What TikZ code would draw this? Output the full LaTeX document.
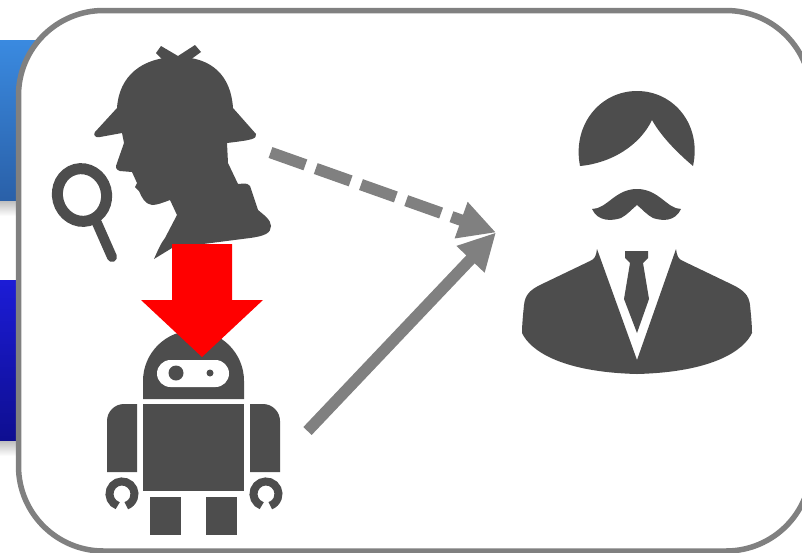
\documentclass[tikz,border=0pt]{standalone}
\usetikzlibrary{arrows.meta}
\definecolor{icongray}{HTML}{4D4D4D}
\definecolor{framegray}{HTML}{808080}
\definecolor{skytop}{HTML}{3A8AE0}
\definecolor{skybottom}{HTML}{2A60A8}
\definecolor{navytop}{HTML}{1C1CD6}
\definecolor{navybottom}{HTML}{0E0E90}
\begin{document}
\begin{tikzpicture}[x=1pt,y=-1pt,
  icon/.style={fill=icongray},
  blind/.style={fill=white},
  backing/.style={top color=gray!50,bottom color=white},
  flow/.style={draw=framegray,line width=11.5pt,-{Triangle[length=37pt,width=36pt]}}]
\useasboundingbox (0,0) rectangle (802,552);

\shade[top color=skytop,bottom color=skybottom] (0,40) rectangle (45,201);
\shade[backing] (0,201) rectangle (45,216);
\shade[top color=navytop,bottom color=navybottom] (0,280) rectangle (45,441);
\shade[backing] (0,441) rectangle (45,456);

\draw[framegray,line width=5.5pt,fill=white,rounded corners=85pt] (18.5,10.5) rectangle (811,551);

\fill[icon] (161,46) -- (178,56) -- (195,45) -- (201,52) -- (190,60) -- (163,60) -- (156,53) -- cycle;
\fill[icon] (117,108) .. controls (119,76) and (142,57) .. (178,57) .. controls (212,57) and (231,76) .. (233,108)
  -- (256,134) .. controls (257,139) and (252,140) .. (227,143)
  -- (228,163) -- (238,184) .. controls (242,184) and (247,182) .. (250,186) -- (258,210)
  .. controls (264,215) and (271,220) .. (271,226) .. controls (271,233) and (265,236) .. (250,238)
  -- (172,248) -- (154,259) .. controls (158,250) and (161,243) .. (165,238) -- (177,215) -- (170,200)
  .. controls (162,203) and (157,205) .. (152,205) .. controls (145,204) and (142,198) .. (139,191)
  -- (135,187) -- (137,183) -- (132,172) -- (120,171) .. controls (116,170) and (115,167) .. (117,163)
  -- (124,143) -- (122,133) -- (100,137) .. controls (95,138) and (93,135) .. (95,132) -- cycle;

\draw[icongray,line width=11pt,rotate around={15:(82,195)}] (82,195) circle[x radius=24.5,y radius=26.5];
\draw[icongray,line width=10pt,line cap=round] (97,223) -- (112,257);

\fill[icon] (143,399) -- (143,381) arc[start angle=180,end angle=360,radius=50.5] -- (244,399) -- cycle;
\fill[blind,rounded corners=13.5pt] (157,360) rectangle (229,387);
\fill[icon] (176,373) circle[radius=7.5];
\fill[icon] (210,373) circle[radius=3.5];
\fill[icon] (143,404) rectangle (244,491);
\fill[icon] (107,472) -- (107,421) arc[start angle=180,end angle=270,radius=17] -- (137,404) -- (137,472) -- cycle;
\fill[icon] (280,472) -- (280,421) arc[start angle=0,end angle=-90,radius=17] -- (250,404) -- (250,472) -- cycle;
\draw[icongray,line width=8pt] (117.7,505.7) arc[start angle=110,end angle=430,radius=12.5];
\draw[icongray,line width=8pt] (261.7,505.7) arc[start angle=110,end angle=430,radius=12.5];
\fill[icon] (150,497) rectangle (181,535);
\fill[icon] (206,497) rectangle (237,535);

\fill[icon] (580,166) .. controls (572,125) and (600,91) .. (637,91) .. controls (674,91) and (702,125) .. (693,166)
  .. controls (680,155) and (662,138) .. (652,120) .. controls (640,145) and (612,163) .. cycle;
\fill[icon] (592,209) .. controls (607,209) and (615,189) .. (637,189) .. controls (659,189) and (667,209) .. (681,209)
  .. controls (675,222) and (662,221) .. (653,218) .. controls (647,215) and (642,209) .. (637,205)
  .. controls (632,209) and (627,215) .. (621,218) .. controls (612,221) and (598,222) .. cycle;
\fill[icon] (597,249) .. controls (596,256) and (595,259) .. (590,261) -- (540,285) .. controls (530,290) and (525,295) .. (524,305)
  .. controls (523,315) and (522,325) .. (522,333) .. controls (530,350) and (560,372) .. (637,374) .. controls (714,372) and (744,350) .. (752,333)
  .. controls (752,325) and (751,315) .. (750,305) .. controls (749,295) and (743,290) .. (733,285) -- (683,261) .. controls (678,259) and (677,256) .. (676,249)
  -- (637,360) -- cycle;
\fill[icon] (625,251) -- (648,251) -- (648,258) -- (643,263) -- (649,299) -- (637,333) -- (624,299) -- (630,263) -- (625,258) -- cycle;

\fill[red] (172,244) -- (232,244) -- (232,300) -- (263,300) -- (202,357) -- (141,300) -- (172,300) -- cycle;

\coordinate (detective) at (270.5,152.5);
\coordinate (robot) at (307.5,431);
\coordinate (boss) at (496,232.5);

\draw[flow,dash pattern=on 37pt off 11pt] (detective) -- (boss);
\draw[flow] (robot) -- (boss);
\end{tikzpicture}
\end{document}
